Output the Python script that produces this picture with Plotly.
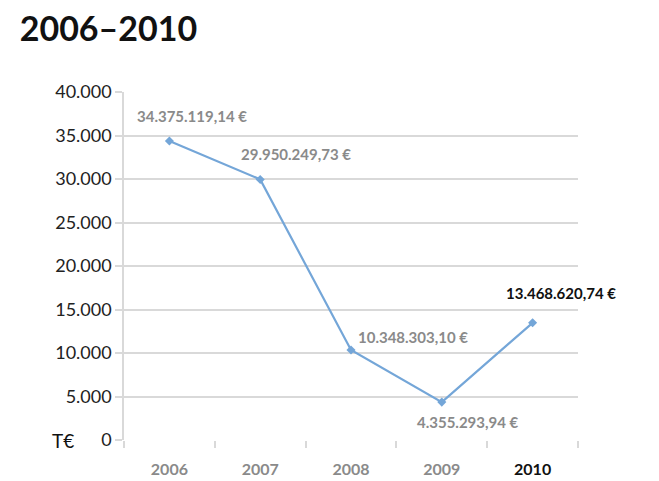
import plotly.graph_objects as go

years = ["2006", "2007", "2008", "2009", "2010"]
values_teur = [34375.11914, 29950.24973, 10348.30310, 4355.29394, 13468.62074]
value_labels = ["34.375.119,14 €", "29.950.249,73 €", "10.348.303,10 €", "4.355.293,94 €", "13.468.620,74 €"]
y_ticks = [0, 5000, 10000, 15000, 20000, 25000, 30000, 35000, 40000]
y_tick_labels = ["0", "5.000", "10.000", "15.000", "20.000", "25.000", "30.000", "35.000", "40.000"]

FONT = "Lato"
GRAY = "#8a8a8a"
LINE = "#74a6d8"
GRID = "#d9d9d9"

fig = go.Figure()
fig.add_trace(go.Scatter(
    x=years, y=values_teur, mode="lines+markers",
    line=dict(color=LINE, width=2.2),
    marker=dict(symbol="diamond", size=7, color=LINE),
    hoverinfo="skip", showlegend=False,
))

# label offsets (px) relative to points
offsets = [(23, 25), (36, 25), (62, 13), (26, -20), (28, 30)]
for i, (v, lab) in enumerate(zip(values_teur, value_labels)):
    dx, dy = offsets[i]
    color = "#111111" if i == len(years) - 1 else GRAY
    fig.add_annotation(
        x=i, y=v, text="<b>" + lab + "</b>", showarrow=False,
        xshift=dx, yshift=dy,
        font=dict(family=FONT, size=15, color=color),
    )

fig.add_annotation(
    xref="paper", yref="y", x=-0.134, y=0, text="T€", showarrow=False,
    xanchor="center", font=dict(family=FONT, size=19, color="#111111"),
)

tick_text = ["<b>" + y + "</b>" for y in years[:-1]] + ["<b><span style='color:#111111'>" + years[-1] + "</span></b>"]

fig.update_layout(
    width=651, height=473,
    margin=dict(l=116, r=81, t=84, b=41),
    paper_bgcolor="white", plot_bgcolor="white",
    title=dict(text="<b>2006–2010</b>", x=0.018, xanchor="left", y=0.955, yanchor="middle",
               font=dict(family=FONT, size=34, color="#111111")),
    xaxis=dict(
        type="category", range=[-0.5, 4.5], tickmode="array", tickvals=years, ticktext=tick_text,
        tickson="boundaries", ticks="outside", ticklen=7, tickcolor=GRID, tickwidth=1.5,
        ticklabelstandoff=18, automargin=False,
        showgrid=False, showline=False, zeroline=False,
        tickfont=dict(family=FONT, size=16, color=GRAY),
    ),
    yaxis=dict(
        range=[0, 40000], tickmode="array", tickvals=y_ticks, ticktext=y_tick_labels,
        ticks="outside", ticklen=7, tickcolor=GRID, tickwidth=1.5, automargin=False,
        showgrid=True, gridcolor=GRID, gridwidth=1.5,
        showline=True, linecolor=GRID, linewidth=1.5, zeroline=False,
        tickfont=dict(family=FONT, size=18, color="#222222"),
    ),
)

fig.write_html("out.html")
